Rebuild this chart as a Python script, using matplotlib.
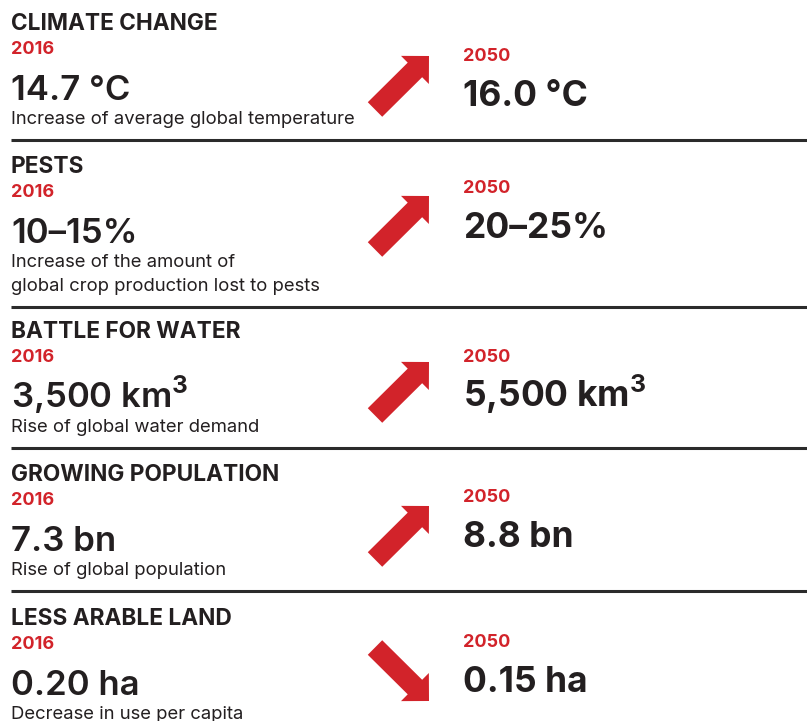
import matplotlib.pyplot as plt
from matplotlib.patches import FancyArrow

plt.rcParams["mathtext.fontset"] = "custom"
plt.rcParams["mathtext.rm"] = "Inter"
plt.rcParams["mathtext.bf"] = "Inter:bold"

# data
topics = ["CLIMATE CHANGE", "PESTS", "BATTLE FOR WATER", "GROWING POPULATION", "LESS ARABLE LAND"]
values_2016 = ["14.7 °C", "10–15%", r"3,500 km$^\mathbf{3}$", "7.3 bn", "0.20 ha"]
values_2050 = ["16.0 °C", "20–25%", r"5,500 km$^\mathbf{3}$", "8.8 bn", "0.15 ha"]
descriptions = [
    "Increase of average global temperature",
    "Increase of the amount of\nglobal crop production lost to pests",
    "Rise of global water demand",
    "Rise of global population",
    "Decrease in use per capita",
]
trend = ["up", "up", "up", "up", "down"]

# layout (pixels, y from the top)
title_y = [30, 173, 338, 481, 625]
right_y = [61, 193, 362, 502, 647]
arrow_top = [56, 196, 362, 506, 640]

RED = "#d2232a"
INK = "#231f20"
FONT = ["Inter", "DejaVu Sans"]

W, H = 807, 721
fig = plt.figure(figsize=(W / 100, H / 100), dpi=100)
ax = fig.add_axes([0, 0, 1, 1])
ax.set_xlim(0, W)
ax.set_ylim(H, 0)
ax.axis("off")

left_x = 11
right_x = 463

for i, topic in enumerate(topics):
    t = title_y[i]
    ax.text(left_x, t, topic, fontsize=16.3, fontweight="bold", color=INK,
            family=FONT, va="baseline")
    ax.text(left_x, t + 24, "2016", fontsize=13, fontweight="bold", color=RED,
            family=FONT, va="baseline")
    ax.text(left_x, t + 70, values_2016[i], fontsize=25, fontweight="semibold",
            color=INK, family=FONT, va="baseline")
    lines = descriptions[i].split("\n")
    for k, line in enumerate(lines):
        ax.text(left_x, t + 94 + 24 * k, line, fontsize=13.3, color=INK,
                family=FONT, va="baseline")

    # 2050 block
    r = right_y[i]
    ax.text(right_x, r, "2050", fontsize=13, fontweight="bold", color=RED,
            family=FONT, va="baseline")
    ax.text(right_x, r + 45, values_2050[i], fontsize=25.5, fontweight="bold",
            color=INK, family=FONT, va="baseline")

    # arrow, 61 px box
    y0 = arrow_top[i]
    if trend[i] == "up":
        x_tail, y_tail, dy = 375, y0 + 53.5, -53.5
    else:
        x_tail, y_tail, dy = 375, y0 + 7.5, 53.5
    ax.add_patch(FancyArrow(x_tail, y_tail, 54, dy, width=20.5, head_width=39.6,
                            head_length=19.8, length_includes_head=True,
                            color=RED, linewidth=0))

    # divider under each row except the last
    if i < len(topics) - 1:
        dy_line = t + 94 + 24 * (len(lines) - 1) + 16
        ax.plot([left_x, W], [dy_line, dy_line], color="#2b2b2b", linewidth=2.2,
                solid_capstyle="butt")

fig.savefig("out.png", dpi=100, facecolor="white")
